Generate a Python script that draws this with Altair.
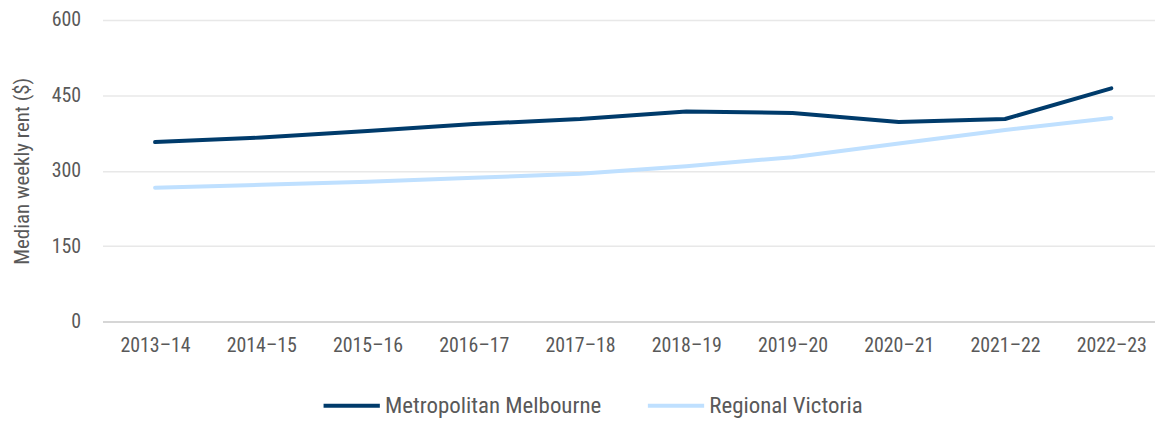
import altair as alt
import pandas as pd

years = ["2013–14", "2014–15", "2015–16", "2016–17", "2017–18",
         "2018–19", "2019–20", "2020–21", "2021–22", "2022–23"]
metro = [357, 366, 379, 393, 403, 418, 415, 397, 403, 464]
regional = [266, 272, 278, 286, 294, 309, 327, 354, 381, 405]
series = ["Metropolitan Melbourne", "Regional Victoria"]
colors = ["#003b6b", "#bfe0ff"]

rows = []
for y, v in zip(years, metro):
    rows.append({"year": y, "rent": v, "series": series[0]})
for y, v in zip(years, regional):
    rows.append({"year": y, "rent": v, "series": series[1]})
df = pd.DataFrame(rows)

FONT = "Roboto Condensed, Liberation Sans Narrow, Roboto"

chart = alt.Chart(df).mark_line(strokeWidth=4, strokeCap="round", strokeJoin="round").encode(
    x=alt.X("year:N", sort=years, title=None,
            scale=alt.Scale(type="point", padding=0.453, align=0.546),
            axis=alt.Axis(labelAngle=0, ticks=False, grid=False, domain=False,
                          labelPadding=14, labelFontSize=20, labelColor="#595959",
                          labelFont=FONT)),
    y=alt.Y("rent:Q", title="Median weekly rent ($)",
            scale=alt.Scale(domain=[0, 600]),
            axis=alt.Axis(values=[0, 150, 300, 450, 600], ticks=False, domain=False,
                          gridColor={"condition": {"test": "datum.value === 0", "value": "#d6d6d6"},
                                     "value": "#e8e8e8"},
                          gridWidth={"condition": {"test": "datum.value === 0", "value": 2},
                                     "value": 1.5},
                          labelPadding=22, labelFontSize=20, labelColor="#595959",
                          labelFont=FONT, titleFont=FONT, titleFontSize=21,
                          titleColor="#595959", titleFontWeight="normal",
                          titlePadding=19)),
    color=alt.Color("series:N", sort=series,
                    scale=alt.Scale(domain=series, range=colors),
                    legend=alt.Legend(title=None, orient="none", direction="horizontal",
                                      legendX=220, legendY=357,
                                      symbolType="stroke", symbolSize=3200,
                                      symbolStrokeWidth=4, labelFontSize=23,
                                      labelColor="#595959", labelFont=FONT,
                                      labelLimit=400,
                                      columnPadding=38, labelOffset=3)),
).properties(
    width=1058, height=303,
    padding={"left": 3, "top": 1, "right": 0, "bottom": 0},
).configure_view(stroke=None)

chart.save("out.html", embed_options={"renderer": "svg", "actions": False})
